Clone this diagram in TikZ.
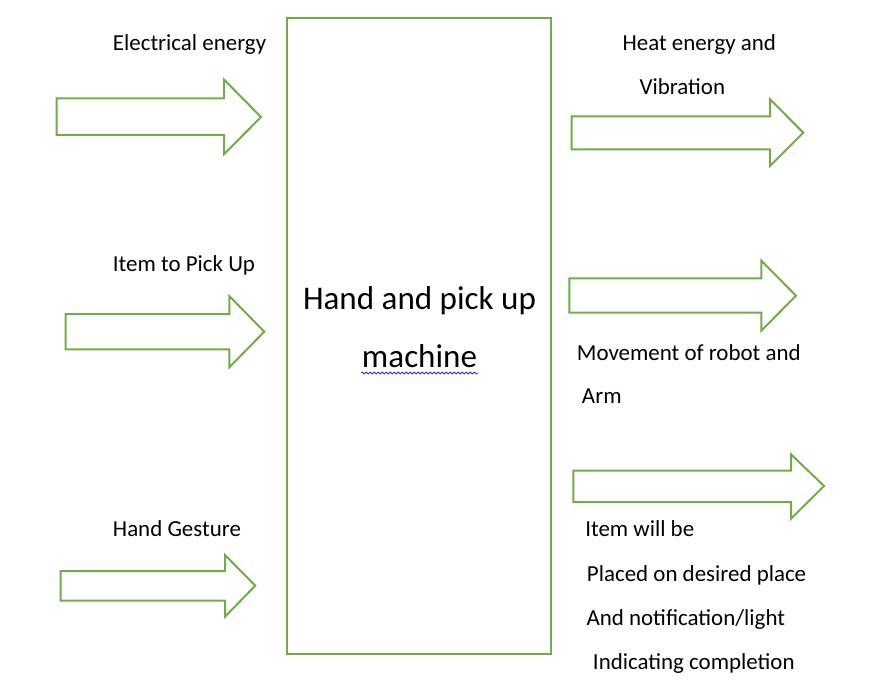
\documentclass[tikz,border=0pt]{standalone}
\usepackage{fontspec}
\setmainfont{Carlito}
\usetikzlibrary{decorations.pathmorphing}
\definecolor{officegreen}{HTML}{70AD47}
\definecolor{spellblue}{HTML}{2B2BE8}
\tikzset{
  box/.style={draw=officegreen,line width=1.5pt,minimum width=198pt,minimum height=477pt,inner sep=0pt},
  blockarrow/.style={draw=officegreen,line width=1.5pt,line join=miter},
  lbl/.style={anchor=base west,inner sep=0pt,font=\fontsize{17.2pt}{21pt}\selectfont},
  title/.style={anchor=base,inner sep=0pt,font=\fontsize{24.8pt}{30pt}\selectfont}
}
\begin{document}
\begin{tikzpicture}[x=0.75pt,y=-0.75pt]
\useasboundingbox (0,0) rectangle (877,688);

\node[box] (machine) at (419,336) {};
\node[title] (m1) at (419.5,309) {Hand and pick up};
\node[title] (m2) at (419.5,367) {machine};
\draw[spellblue,line width=0.6pt,decorate,decoration={snake,amplitude=0.7pt,segment length=3pt}] (361,373) -- (478,373);

% block arrows: tail, shaft top/bottom, head base, head top/bottom, tip
\foreach \l/\t/\b/\h/\ht/\hb/\tx/\ty in {56.5/98.3/135/224/79.5/154.3/261/117,
  65.7/314/349.3/229.3/296/367.3/264.3/331.7,
  60.7/571/600.7/225/555/616.7/255.3/585.7,
  571.7/116.3/149.3/770/99.3/166/803.3/132.7,
  569.3/278.3/312.7/761.3/260.7/330.7/796/295.7,
  573.3/470.7/502/791/454.3/518.7/824/486}
\draw[blockarrow] (\l,\t) -- (\h,\t) -- (\h,\ht) -- (\tx,\ty) -- (\h,\hb) -- (\h,\b) -- (\l,\b) -- cycle;

% inputs
\node[lbl] (elec) at (112.7,51) {Electrical energy};
\node[lbl] (item) at (112.7,271) {Item to Pick Up};
\node[lbl] (gest) at (112.7,536) {Hand Gesture};

% outputs
\node[lbl] (heat1) at (622.3,51) {Heat energy and};
\node[lbl] (heat2) at (639.3,95) {Vibration};
\node[lbl] (move1) at (576.7,360) {Movement of robot and};
\node[lbl] (move2) at (581.7,403.3) {Arm};
\node[lbl] (done1) at (585,536.7) {Item will be};
\node[lbl] (done2) at (586.7,581) {Placed on desired place};
\node[lbl] (done3) at (586.3,625) {And notification/light};
\node[lbl] (done4) at (592.7,669.3) {Indicating completion};

\end{tikzpicture}
\end{document}
